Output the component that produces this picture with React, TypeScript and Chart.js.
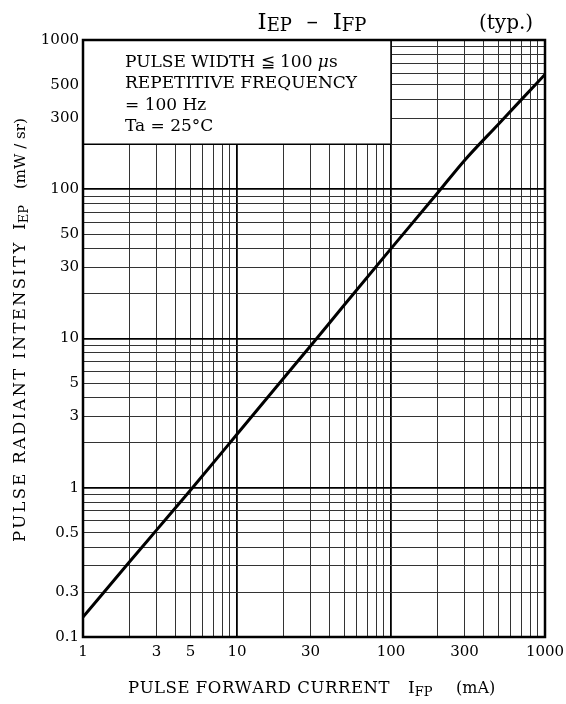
import React, { useEffect, useRef } from 'react';
import { Chart, registerables } from 'chart.js';

Chart.register(...registerables);

// ---- data ----
const forwardCurrentMA = [1, 2, 3, 5, 10, 20, 30, 50, 100, 200, 300, 500, 700, 1000];
const radiantIntensity = [0.136, 0.318, 0.52, 0.967, 2.28, 5.4, 8.9, 16.9, 40, 94, 156, 274, 397, 588];

const xGridValues = [1, 2, 3, 4, 5, 6, 7, 8, 9, 10, 20, 30, 40, 50, 60, 70, 80, 90, 100, 200, 300, 400, 500, 600, 700, 800, 900, 1000];
const yGridValues = [0.1, 0.2, 0.3, 0.4, 0.5, 0.6, 0.7, 0.8, 0.9, 1, 2, 3, 4, 5, 6, 7, 8, 9, 10, 20, 30, 40, 50, 60, 70, 80, 90, 100, 200, 300, 400, 500, 600, 700, 800, 900, 1000];
const xTickValues = [1, 3, 5, 10, 30, 100, 300, 1000];
const xTickLabels = ['1', '3', '5', '10', '30', '100', '300', '1000'];
const yTickValues = [1000, 500, 300, 100, 50, 30, 10, 5, 3, 1, 0.5, 0.2, 0.1];
const yTickLabels = ['1000', '500', '300', '100', '50', '30', '10', '5', '3', '1', '0.5', '0.3', '0.1'];
const decades = [0.1, 1, 10, 100, 1000];

const noteBoxX = [1, 100];
const noteBoxY = [200, 1000];

const FONT = '"DejaVu Serif", "Liberation Serif", serif';

const near = (a: number, b: number) => Math.abs(Math.log10(a) - Math.log10(b)) < 1e-6;
const labelFor = (vals: number[], labels: string[], v: number) => {
  const i = vals.findIndex((t) => near(t, v));
  return i >= 0 ? labels[i] : '';
};
const isDecade = (v: number) => decades.some((d) => near(d, v));

type Part = { t: string; size: number; dy?: number; italic?: boolean };
function setFont(ctx: CanvasRenderingContext2D, p: Part) {
  ctx.font = `${p.italic ? 'italic ' : ''}${p.size}px ${FONT}`;
}
function drawParts(ctx: CanvasRenderingContext2D, parts: Part[], x: number, y: number) {
  let cx = x;
  for (const p of parts) {
    setFont(ctx, p);
    ctx.fillText(p.t, cx, y + (p.dy || 0));
    cx += ctx.measureText(p.t).width;
  }
  return cx;
}
function partsWidth(ctx: CanvasRenderingContext2D, parts: Part[]) {
  let w = 0;
  for (const p of parts) {
    setFont(ctx, p);
    w += ctx.measureText(p.t).width;
  }
  return w;
}
// draw text spread with letter spacing so that it spans the given width
function drawSpread(ctx: CanvasRenderingContext2D, t: string, size: number, x: number, y: number, width: number) {
  ctx.font = `${size}px ${FONT}`;
  const w = ctx.measureText(t).width;
  const sp = Math.max(0, (width - w) / Math.max(1, t.length - 1));
  let cx = x;
  for (const ch of t) {
    ctx.fillText(ch, cx, y);
    cx += ctx.measureText(ch).width + sp;
  }
}

const decorPlugin = {
  id: 'decor',
  beforeDatasetsDraw(chart: any) {
    const { ctx, scales } = chart;
    const x = scales.x, y = scales.y;
    const l = x.getPixelForValue(noteBoxX[0]);
    const r = x.getPixelForValue(noteBoxX[1]);
    const t = y.getPixelForValue(noteBoxY[1]);
    const b = y.getPixelForValue(noteBoxY[0]);
    ctx.save();
    ctx.fillStyle = '#fff';
    ctx.fillRect(l, t, r - l, b - t);
    ctx.strokeStyle = '#000';
    ctx.lineWidth = 1.5;
    ctx.beginPath();
    ctx.moveTo(l, b);
    ctx.lineTo(r, b);
    ctx.moveTo(r, t);
    ctx.lineTo(r, b);
    ctx.stroke();
    ctx.fillStyle = '#000';
    ctx.textBaseline = 'alphabetic';
    ctx.textAlign = 'left';
    const tx = l + 42;
    drawParts(ctx, [
      { t: 'PULSE WIDTH ≦ 100 ', size: 17 },
      { t: 'μ', size: 17, italic: true },
      { t: 's', size: 17 },
    ], tx, t + 27);
    drawParts(ctx, [{ t: 'REPETITIVE FREQUENCY', size: 17 }], tx, t + 48);
    drawParts(ctx, [{ t: '= 100 Hz', size: 17 }], tx, t + 70);
    drawParts(ctx, [{ t: 'Ta = 25°C', size: 17 }], tx, t + 91);
    ctx.restore();
  },
  afterDraw(chart: any) {
    const { ctx, chartArea } = chart;
    ctx.save();
    // frame
    ctx.strokeStyle = '#000';
    ctx.lineWidth = 2.5;
    ctx.strokeRect(chartArea.left, chartArea.top, chartArea.right - chartArea.left, chartArea.bottom - chartArea.top);
    ctx.fillStyle = '#000';
    ctx.textBaseline = 'alphabetic';
    ctx.textAlign = 'left';
    // title
    const title: Part[] = [
      { t: 'I', size: 23 },
      { t: 'EP', size: 18, dy: 2 },
      { t: '  –  ', size: 23 },
      { t: 'I', size: 23 },
      { t: 'FP', size: 18, dy: 2 },
    ];
    const tw = partsWidth(ctx, title);
    drawParts(ctx, title, 312 - tw / 2, 29);
    drawParts(ctx, [{ t: '(typ.)', size: 20 }], 479, 29);
    // x title
    drawSpread(ctx, 'PULSE FORWARD CURRENT', 16.5, 128, 693, 260);
    drawParts(ctx, [{ t: 'I', size: 17 }, { t: 'FP', size: 13, dy: 3 }], 408, 693);
    drawParts(ctx, [{ t: '(mA)', size: 16 }], 456, 693);
    // y title
    ctx.translate(25, 542);
    ctx.rotate(-Math.PI / 2);
    drawSpread(ctx, 'PULSE RADIANT INTENSITY', 16.5, 0, 0, 299);
    drawParts(ctx, [{ t: 'I', size: 17 }, { t: 'EP', size: 13, dy: 3 }], 312, 0);
    drawSpread(ctx, '(mW / sr)', 15, 353, 0, 59);
    ctx.restore();
  },
};

export default function App() {
  const ref = useRef<HTMLCanvasElement | null>(null);
  useEffect(() => {
    if (!ref.current) return;
    Chart.defaults.font.family = FONT;
    const chart = new Chart(ref.current, {
      type: 'line',
      data: {
        datasets: [
          {
            data: forwardCurrentMA.map((v, i) => ({ x: v, y: radiantIntensity[i] })),
            borderColor: '#000',
            borderWidth: 3,
            pointRadius: 0,
            cubicInterpolationMode: 'monotone',
            fill: false,
          },
        ],
      },
      options: {
        animation: false,
        responsive: false,
        events: [],
        layout: { padding: { top: 40, right: 21, bottom: 0, left: 0 } },
        plugins: { legend: { display: false }, tooltip: { enabled: false }, title: { display: false } },
        scales: {
          x: {
            type: 'logarithmic',
            min: 1,
            max: 1000,
            afterBuildTicks: (s: any) => { s.ticks = xGridValues.map((v) => ({ value: v })); },
            afterFit: (s: any) => { s.height = 67; s.paddingLeft = 0; s.paddingRight = 0; },
            grid: {
              drawTicks: false,
              color: (c: any) => (isDecade(c.tick.value) ? '#000' : '#333'),
              lineWidth: (c: any) => (isDecade(c.tick.value) ? 1.8 : 1),
            },
            border: { display: false },
            ticks: {
              autoSkip: false,
              maxRotation: 0,
              padding: 6,
              color: '#000',
              font: { size: 15, family: FONT },
              callback: (v: any) => labelFor(xTickValues, xTickLabels, Number(v)),
            },
          },
          y: {
            type: 'logarithmic',
            min: 0.1,
            max: 1000,
            afterBuildTicks: (s: any) => { s.ticks = yGridValues.map((v) => ({ value: v })); },
            afterFit: (s: any) => { s.width = 83; s.paddingTop = 0; s.paddingBottom = 0; },
            grid: {
              drawTicks: false,
              color: (c: any) => (isDecade(c.tick.value) ? '#000' : '#333'),
              lineWidth: (c: any) => (isDecade(c.tick.value) ? 1.8 : 1),
            },
            border: { display: false },
            ticks: {
              autoSkip: false,
              padding: 4,
              color: '#000',
              font: { size: 15, family: FONT },
              callback: (v: any) => labelFor(yTickValues, yTickLabels, Number(v)),
            },
          },
        },
      },
      plugins: [decorPlugin],
    } as any);
    return () => chart.destroy();
  }, []);
  return (
    <div style={{ position: 'fixed', left: 0, top: 0, width: 566, height: 704, background: '#fff' }}>
      <canvas ref={ref} width={566} height={704} style={{ width: 566, height: 704, display: 'block' }} />
    </div>
  );
}
